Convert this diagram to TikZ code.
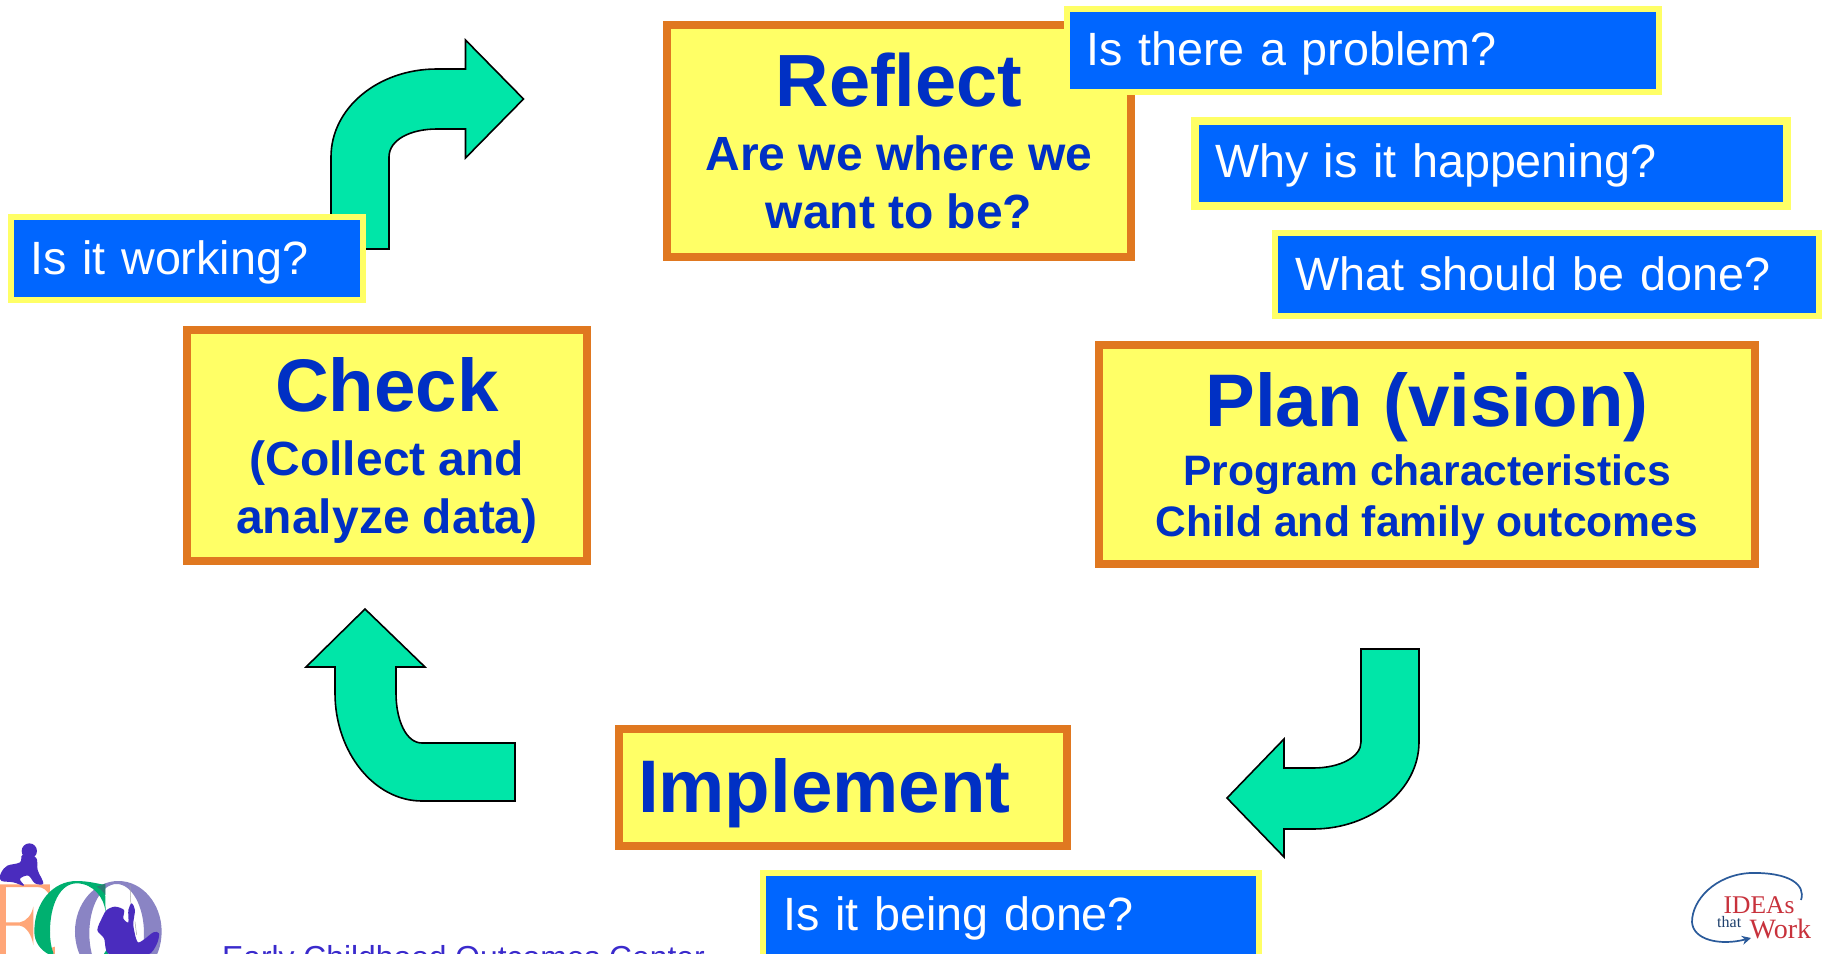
\documentclass[tikz,border=0pt]{standalone}
\usepackage{fontspec}
\setmainfont{Liberation Sans}
\newfontfamily\logoserif{Liberation Serif}
\usetikzlibrary{arrows.meta}
\definecolor{orangeedge}{HTML}{E07820}
\definecolor{boxyellow}{HTML}{FFFF66}
\definecolor{qblue}{HTML}{0066FF}
\definecolor{headblue}{HTML}{0030C4}
\definecolor{turn}{HTML}{00E6A8}
\definecolor{footblue}{HTML}{3A2ACC}
\definecolor{ecopeach}{HTML}{FFA678}
\definecolor{ecogreen}{HTML}{00B070}
\definecolor{ecoviolet}{HTML}{8A84C4}
\definecolor{ecobaby}{HTML}{4A2CBE}
\definecolor{ideared}{HTML}{C8323C}
\definecolor{ideablue}{HTML}{2A5A9A}
\newcommand{\ttlfont}{\fontsize{74.5}{74}\selectfont\bfseries}
\tikzset{
  stage/.style={draw=orangeedge,fill=boxyellow,line width=8pt,text=headblue,
    font=\bfseries\fontsize{48}{58}\selectfont,align=center,inner sep=0pt,text depth=0pt},
  ask/.style={draw=boxyellow,fill=qblue,line width=6pt,text=white,
    font=\fontsize{46.7}{57}\selectfont,align=left,inner sep=0pt,text depth=0pt},
  turnarrow/.style={draw=black,fill=turn,line width=1.6pt,line join=miter}
}
\begin{document}
\begin{tikzpicture}[x=1pt,y=-1pt]
\clip (0,0) rectangle (1823,953);
\fill[white] (0,0) rectangle (1823,953);

% curved arrows
\draw[turnarrow] (389,249) -- (331,249) -- (331,157) .. controls (331,108) and (378,69) .. (437,69)
  -- (465.5,69) -- (465.5,40) -- (523.5,99) -- (465.5,158) -- (465.5,129) -- (437,129)
  .. controls (410,129) and (389,140) .. (389,157) -- cycle;
\draw[turnarrow] (1361,649) -- (1419,649) -- (1419,742) .. controls (1419,790) and (1371,829) .. (1313,829)
  -- (1284,829) -- (1284,857) -- (1227,798) -- (1284,739) -- (1284,768) -- (1313,768)
  .. controls (1340,768) and (1361,757) .. (1361,742) -- cycle;
\draw[turnarrow] (515,743) -- (515,801) -- (422,801) .. controls (374,801) and (335,752) .. (335,693)
  -- (335,667) -- (306,667) -- (365,609) -- (425,667) -- (396,667) -- (396,693)
  .. controls (396,720) and (406,743) .. (422,743) -- cycle;

% stages
\node[stage,text depth=-2pt,minimum width=464pt,minimum height=232pt] (reflect) at (899,141)
  {{\fontsize{74}{74}\selectfont\bfseries Reflect}\\[6pt]Are we where we\\want to be?};
\node[stage,minimum width=400pt,minimum height=231pt] (check) at (387,445.5)
  {{\ttlfont Check}\\[6pt](Collect and\\analyze data)};
\node[stage,font=\bfseries\fontsize{42.6}{51}\selectfont,text depth=-3.5pt,minimum width=656pt,minimum height=219pt] (plan) at (1427,454.5)
  {{\ttlfont Plan (vision)}\\[8.5pt]Program characteristics\\Child and family outcomes};
\node[stage,minimum width=448pt,minimum height=117pt,text width=410pt,align=left,text height=49pt,font=\ttlfont] (implement) at (843,787.5) {Implement};

% questions
\node[ask,minimum width=592pt,minimum height=83pt,text width=553pt,text height=29pt] (q1) at (1363,50.5) {Is there a problem?};
\node[ask,line width=8pt,minimum width=592pt,minimum height=85pt,text width=552pt,text height=27pt] (q2) at (1491,163.5) {Why is it happening?};
\node[ask,minimum width=544pt,minimum height=83pt,text width=504pt,text height=31pt] (q3) at (1547,274.5) {What should be done?};
\node[ask,minimum width=496pt,minimum height=94pt,text width=455pt,text height=20pt] (q4) at (1011,920) {Is it being done?};
\node[ask,minimum width=352pt,minimum height=83pt,text width=313pt,text height=31pt] (q5) at (187,258.5) {Is it working?};

% footer
\node[anchor=base west,inner sep=0pt,text=footblue,font=\fontsize{31.8}{38}\selectfont] (footer) at (222,968) {Early Childhood Outcomes Center};

% ECO logo
\begin{scope}[shift={(0,835)},x=0.3333pt,y=-0.3333pt]
  % E
  \fill[ecopeach] (0,148) -- (150,148) -- (150,185) .. controls (142,165) and (130,156) .. (110,156)
    -- (18,156) -- (18,262) -- (60,262) .. controls (80,258) and (95,240) .. (100,215)
    -- (100,330) .. controls (95,300) and (80,276) .. (60,272) -- (18,272) -- (18,360) -- (0,360) -- cycle;
  \fill[ecopeach] (150,340) -- (165,335) -- (165,360) -- (150,360) -- cycle;
  % O
  \fill[ecoviolet,even odd rule] (355,290) ellipse [x radius=130,y radius=152]
    (350,295) ellipse [x radius=82,y radius=148];
  % C
  \fill[ecogreen] (317,235) .. controls (315,190) and (280,145) .. (230,145)
    .. controls (180,145) and (150,210) .. (150,290) .. controls (150,315) and (153,335) .. (160,354)
    -- (160,360) -- (150,360) .. controls (120,345) and (103,320) .. (103,290)
    .. controls (103,200) and (160,138) .. (230,138) .. controls (262,138) and (290,145) .. (315,150) -- cycle;
  \fill[ecogreen] (310,360) -- (325,335) -- (325,360) -- cycle;
  \fill[black!30!ecogreen!70!ecoviolet] (290,155) -- (316,146) -- (316,180) .. controls (310,170) and (300,160) .. (290,155) -- cycle;
  % swing
  \draw[gray!70,line width=0.5pt] (390,150) -- (393,215) (405,260) -- (410,300);
  % crawling baby
  \fill[ecobaby] (88,48) circle [radius=23];
  \fill[ecobaby] plot[smooth cycle,tension=0.6] coordinates {(68,60) (60,82) (22,92) (5,110) (0,125) (5,138) (40,142) (72,152) (60,132) (85,122) (105,145) (130,145) (113,105) (108,68)};
  % swinging child
  \fill[ecobaby] plot[smooth cycle,tension=0.5] coordinates {(308,245) (292,285) (312,310) (330,360) (440,360) (470,328) (477,295) (460,292) (430,315) (412,320) (400,270) (405,225) (395,205) (385,225) (385,262) (370,250) (372,225) (345,215) (320,225)};
\end{scope}

% IDEAs that Work logo
\draw[ideablue,line width=1.7pt,-{Stealth[length=9pt,width=9pt]}]
  (1801,900) .. controls (1806,885) and (1790,872) .. (1750,873)
  .. controls (1715,875) and (1692,900) .. (1692,922)
  .. controls (1693,940) and (1720,946) .. (1751,938);
\node[anchor=base west,inner sep=0pt,text=ideared,font=\logoserif\fontsize{25.5}{28}\selectfont] (ideas) at (1723.5,913) {IDEAs};
\node[anchor=base west,inner sep=0pt,text=ideablue!70!black,font=\logoserif\fontsize{16}{18}\selectfont] (that) at (1717,927) {that};
\node[anchor=base west,inner sep=0pt,text=ideared,font=\logoserif\fontsize{28}{30}\selectfont] (work) at (1749.5,938) {Work};
\end{tikzpicture}
\end{document}
